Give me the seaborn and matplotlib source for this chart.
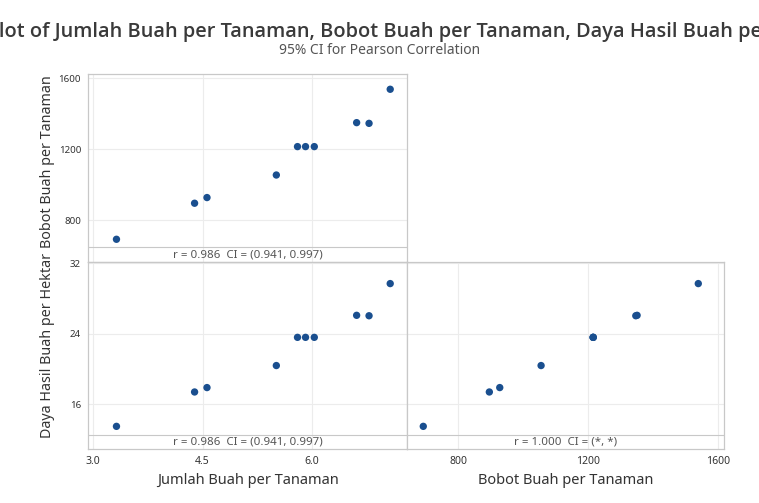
import seaborn as sns
import matplotlib.pyplot as plt
import pandas as pd

# values
jumlah = [3.32, 4.39, 4.56, 5.51, 5.80, 5.91, 6.03, 6.61, 6.78, 7.07]
bobot = [693, 896, 928, 1055, 1215, 1215, 1215, 1350, 1346, 1538]
daya = [13.5, 17.4, 17.9, 20.4, 23.6, 23.6, 23.6, 26.1, 26.05, 29.7]

ann_top = "r = 0.986  CI = (0.941, 0.997)"
ann_bl = "r = 0.986  CI = (0.941, 0.997)"
ann_br = "r = 1.000  CI = (*, *)"

df = pd.DataFrame({"jumlah": jumlah, "bobot": bobot, "daya": daya})

sns.set_style("white")
plt.rcParams["font.family"] = ["Noto Sans", "DejaVu Sans"]

W, H = 759, 503
fig = plt.figure(figsize=(W / 100, H / 100), dpi=100)


def px_axes(l, t, r, b):
    return fig.add_axes([l / W, 1 - b / H, (r - l) / W, (b - t) / H])


blue = "#1a4f8f"
grid_c = "#ececec"
frame_c = "#c8c8c8"

ax1 = px_axes(88, 74, 407, 262)
ax2 = px_axes(88, 262, 407, 449)
ax3 = px_axes(407, 262, 724, 449)

sns.scatterplot(data=df, x="jumlah", y="bobot", ax=ax1, color=blue, s=28, edgecolor="none")
sns.scatterplot(data=df, x="jumlah", y="daya", ax=ax2, color=blue, s=28, edgecolor="none")
sns.scatterplot(data=df, x="bobot", y="daya", ax=ax3, color=blue, s=28, edgecolor="none")

ax1.set_xlim(2.93, 7.30)
ax1.set_ylim(565, 1624)
ax2.set_xlim(2.93, 7.30)
ax2.set_ylim(10.93, 32.15)
ax3.set_xlim(643, 1617)
ax3.set_ylim(10.93, 32.15)

ax1.set_xticks([3.0, 4.5, 6.0])
ax1.set_yticks([800, 1200, 1600])
ax2.set_xticks([3.0, 4.5, 6.0])
ax2.set_yticks([16, 24, 32])
ax3.set_xticks([800, 1200, 1600])
ax3.set_yticks([16, 24, 32])

for ax in (ax1, ax2, ax3):
    ax.set_xlabel("")
    ax.set_ylabel("")
    ax.grid(True, color=grid_c, linewidth=0.8)
    ax.set_axisbelow(True)
    for sp in ax.spines.values():
        sp.set_color(frame_c)
        sp.set_linewidth(0.9)
    ax.tick_params(length=3, width=0.7, color="#999999", labelsize=7, labelcolor="#333333", pad=2)

ax1.tick_params(axis="x", bottom=False, labelbottom=False)
ax3.tick_params(axis="y", left=False, labelleft=False)
ax2.xaxis.set_major_formatter(plt.FormatStrFormatter("%.1f"))
ax2.tick_params(axis="x", labelsize=7.5)
ax3.tick_params(axis="x", labelsize=7.5)

# annotation strips at the bottom of each panel
ax1.axhline(650, color=frame_c, linewidth=0.8)
ax2.axhline(12.52, color=frame_c, linewidth=0.8)
ax3.axhline(12.52, color=frame_c, linewidth=0.8)
ax1.text(0.5, (607 - 565) / (1624 - 565), ann_top, transform=ax1.transAxes,
         ha="center", va="center", fontsize=8.3, color="#555555")
ax2.text(0.5, (11.72 - 10.93) / (32.15 - 10.93), ann_bl, transform=ax2.transAxes,
         ha="center", va="center", fontsize=8.3, color="#555555")
ax3.text(0.5, (11.72 - 10.93) / (32.15 - 10.93), ann_br, transform=ax3.transAxes,
         ha="center", va="center", fontsize=8.3, color="#555555")

# the title is wider than the figure and gets clipped at both sides, as in the reference
fig.text(0.5, 1 - 32 / H,
         "Matrix Plot of Jumlah Buah per Tanaman, Bobot Buah per Tanaman, Daya Hasil Buah per Hektar",
         ha="center", va="center", fontsize=14.4, fontweight="semibold", color="#3a3a3a",
         family=["Open Sans", "Lato", "DejaVu Sans"])
fig.text(0.5, 1 - 50 / H, "95% CI for Pearson Correlation",
         ha="center", va="center", fontsize=10, color="#555555")

fig.text(247.5 / W, 1 - 481 / H, "Jumlah Buah per Tanaman", ha="center", va="center",
         fontsize=10.5, color="#333333")
fig.text(565.5 / W, 1 - 481 / H, "Bobot Buah per Tanaman", ha="center", va="center",
         fontsize=10.5, color="#333333")
fig.text(48 / W, 1 - 162 / H, "Bobot Buah per Tanaman", ha="center", va="center",
         rotation=90, fontsize=10.3, color="#333333")
fig.text(48 / W, 1 - 345 / H, "Daya Hasil Buah per Hektar", ha="center", va="center",
         rotation=90, fontsize=10.3, color="#333333")

fig.savefig("out.png", dpi=100)
